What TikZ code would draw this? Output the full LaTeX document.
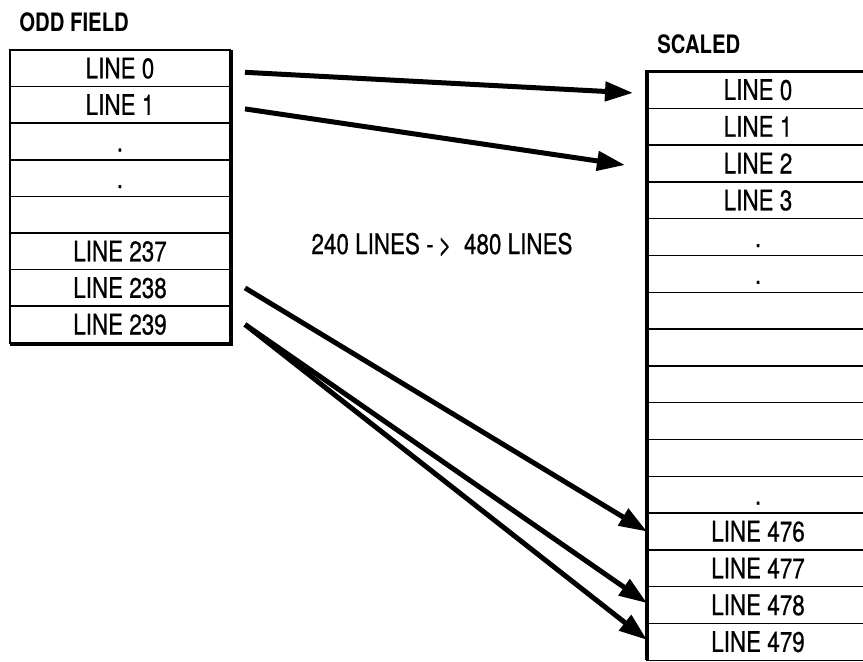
\documentclass[tikz,border=0pt]{standalone}
\usepackage{fontspec}
\setmainfont{TeX Gyre Heros}[FakeStretch=0.8]
\newfontfamily\cellfont{TeX Gyre Heros}[FakeStretch=0.79,FakeBold=0.6]
\usetikzlibrary{arrows.meta}

\tikzset{
  cell/.style={draw, line width=0.75pt, inner sep=0pt, outer sep=0pt,
    minimum height=18.3pt, text height=10pt, text depth=0pt,
    font=\cellfont\fontsize{14.2}{16}\selectfont},
  oddcell/.style={cell, minimum width=110pt},
  scaledcell/.style={cell, minimum width=111pt, minimum height=18.4pt},
  heading/.style={inner sep=0pt, anchor=west, text height=9.1pt, text depth=0pt,
    font=\fontsize{12.7}{15}\selectfont\bfseries},
  maparrow/.style={line width=2.5pt, -{Triangle[length=14pt,width=9.5pt]}}
}

\begin{document}
\begin{tikzpicture}[x=0.5pt,y=-0.5pt]
\useasboundingbox (0,0) rectangle (863,661);

% odd field, 240 lines
\node[heading] (oddtitle) at (19,22) {ODD FIELD};
\foreach \txt [count=\i from 0] in {LINE 0,LINE 1,.,.,{},LINE 237,LINE 238,LINE 239}
  \node[oddcell] (odd\i) at (120,{68.3+36.6*\i}) {\txt};
\draw[line width=1pt] (odd0.north west) rectangle (odd7.south east);
\draw[line width=1.6pt] ([shift={(1.5,0)}]odd0.north east) -- ([shift={(1.5,1.5)}]odd7.south east)
  -- ([shift={(0,1.5)}]odd7.south west);

% scaled, 480 lines
\node[heading] (sctitle) at (657,44) {SCALED};
\foreach \txt [count=\i from 0] in {LINE 0,LINE 1,LINE 2,LINE 3,.,.,{},{},{},{},{},.,LINE 476,LINE 477,LINE 478,LINE 479}
  \node[scaledcell] (sc\i) at (758,{89.9+36.8*\i}) {\txt};
\draw[line width=1.7pt] (sc15.south west) -- (sc0.north west) -- (sc0.north east);

\node[cell, draw=none] (ratio) at (442,244) {240 LINES -\,> \ 480 LINES};

% mapping arrows
\draw[maparrow] ([shift={(15,4)}]odd0.east) -- ([shift={(-14,3)}]sc0.west);
\draw[maparrow] ([shift={(15,4)}]odd1.east) -- ([shift={(-22,1.5)}]sc2.west);
\draw[maparrow] ([shift={(15,0)}]odd6.east) -- (sc12.west);
\draw[maparrow] ([shift={(15,0)}]odd7.east) -- ([shift={(0,-2)}]sc14.west);
\draw[maparrow] ([shift={(15,0)}]odd7.east) -- ([shift={(0,-2)}]sc15.west);
\end{tikzpicture}
\end{document}
